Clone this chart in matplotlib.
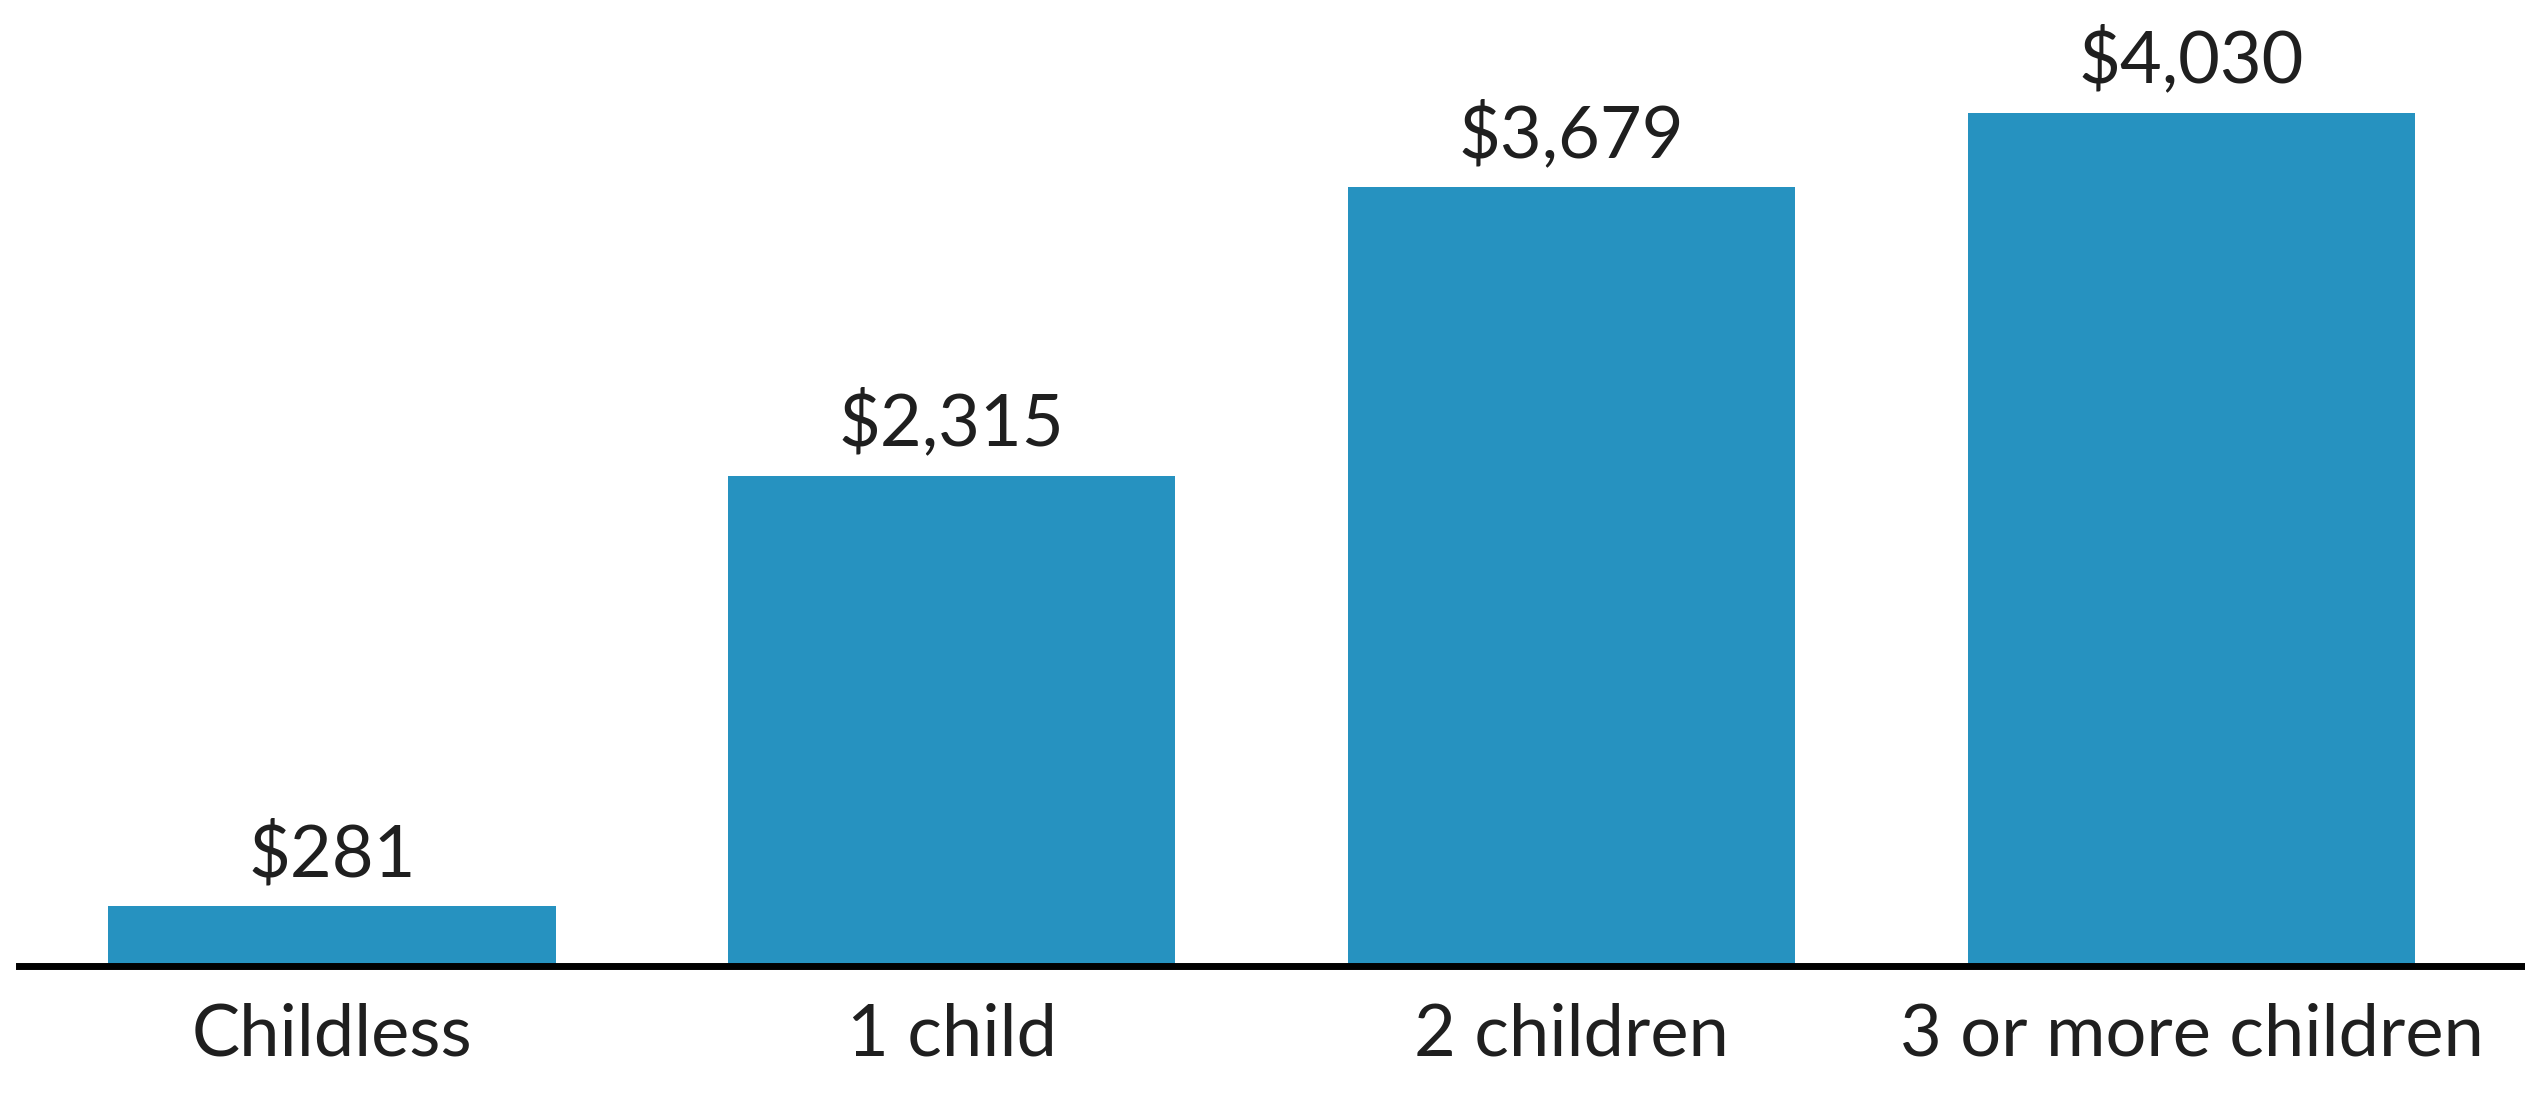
import matplotlib
matplotlib.use("Agg")
import matplotlib.pyplot as plt

categories = ['Childless', '1 child', '2 children', '3 or more children']
values = [281, 2315, 3679, 4030]
value_labels = ['$281', '$2,315', '$3,679', '$4,030']

plt.rcParams['font.family'] = ['Lato', 'DejaVu Sans']

fig = plt.figure(figsize=(25.25, 10.98), dpi=100)
ax = fig.add_axes([12 / 1568, 82 / 682, 1 - 12 / 1568, 600 / 682])

x = list(range(len(categories)))
bars = ax.bar(x, values, width=0.722, color='#2692c0', zorder=2)

for b, lab in zip(bars, value_labels):
    ax.annotate(lab, (b.get_x() + b.get_width() / 2, b.get_height()),
                xytext=(0, 13), textcoords='offset points',
                ha='center', va='bottom', fontsize=52, color='#1f1f1f')

ax.set_xlim(-0.504, 3.538)
ax.set_ylim(0, 4562)
ax.set_xticks(x)
ax.set_xticklabels(categories, fontsize=52, color='#1f1f1f')
ax.tick_params(axis='x', length=0, pad=26)
ax.set_yticks([])

for s in ['top', 'right', 'left']:
    ax.spines[s].set_visible(False)
ax.spines['bottom'].set_linewidth(5)
ax.spines['bottom'].set_color('black')
ax.spines['bottom'].set_zorder(3)

fig.savefig('out.png', dpi=100)
